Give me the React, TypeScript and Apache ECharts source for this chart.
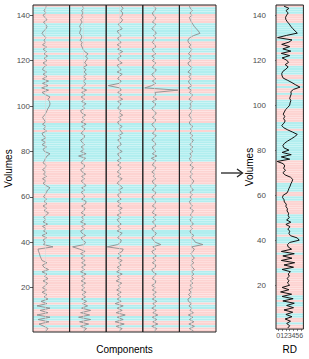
import React, { useEffect, useRef } from "react";
import * as echarts from "echarts";

// volume index (bottom to top)
const volumes: number[] = Array.from({ length: 144 }, (_, i) => i + 1);

// 1 = cyan band, 0 = pink band (per volume, bottom to top)
const censored: number[] = [
  0, 0, 1, 0, 0, 1, 1, 0, 0, 0,
  1, 1, 0, 1, 1, 0, 0, 0, 0, 0,
  0, 0, 0, 0, 0, 1, 1, 0, 0, 0,
  0, 0, 0, 1, 0, 0, 0, 0, 1, 1,
  1, 0, 1, 1, 1, 0, 0, 1, 1, 1,
  1, 0, 0, 0, 0, 0, 0, 1, 1, 0,
  0, 1, 1, 1, 1, 0, 0, 0, 0, 0,
  0, 0, 0, 0, 0, 1, 1, 1, 1, 1,
  1, 1, 1, 1, 1, 1, 1, 1, 0, 1,
  1, 1, 0, 0, 0, 0, 0, 0, 1, 1,
  1, 1, 0, 0, 1, 0, 0, 1, 0, 1,
  1, 0, 0, 1, 1, 1, 1, 0, 0, 0,
  1, 1, 0, 1, 1, 0, 0, 0, 1, 0,
  1, 1, 1, 1, 1, 1, 0, 0, 0, 0,
  1, 1, 1, 0,
];

// component traces (position within each column, bottom to top)
const comp1: number[] = [
  13, 15, 11, 6, 16, 5, 17, 4, 15, 7,
  17, 4, 14, 8, 15, 11, 14, 9, 13.5, 9.5,
  12.5, 14.5, 10, 15, 11.5, 14, 9, 15.5, 11, 9.5,
  14, 9, 8, 7, 6.5, 5.5, 5, 20, 10.5, 12,
  10, 13.5, 9, 14, 10.5, 13, 9.5, 14.5, 10, 13,
  10.5, 13.5, 15.5, 11, 13.5, 10, 14, 11, 13.5, 10.5,
  12, 13.5, 14.5, 17, 13, 10, 13, 9.5, 13.5, 10.5,
  12.5, 9.5, 12.5, 13, 10, 11.5, 12.5, 14, 17, 11.5,
  10, 13.5, 9, 12.5, 8.5, 13, 10, 9, 13.5, 10.5,
  13, 9.5, 12.5, 11, 9.5, 11.5, 13, 14, 15, 16.5,
  17, 16.5, 15, 17, 12.5, 9, 15.5, 8.7, 15, 9.5,
  15.5, 9.5, 14, 10, 13.5, 9.5, 10.5, 13.5, 10, 14,
  11, 14.5, 11, 13.5, 10, 13.5, 9.5, 12.5, 11, 13,
  11, 9, 10.5, 13, 14, 12.5, 10.5, 14, 12, 10,
  13, 11, 12.5, 13,
];
const comp2: number[] = [
  14, 17, 11, 19, 10, 21, 9, 20, 11, 21,
  12, 18, 13, 17, 12, 16, 12.5, 16.5, 12, 15,
  12, 16, 11.5, 15.5, 12, 16.5, 11, 15, 12, 16,
  12, 15.5, 11.5, 15, 11, 15.5, 10, 3, 14.5, 16,
  13, 11.5, 16, 12.5, 11, 15, 12, 16, 11, 14.5,
  12, 15.5, 11.5, 14.5, 15.5, 12, 16, 16.5, 12, 15,
  14, 11.5, 15, 12, 16.5, 14, 11.5, 15, 12, 16,
  12.5, 11, 14.5, 15, 11.5, 13, 16, 9, 16.5, 11,
  14.5, 11.5, 15, 12.5, 11, 14.5, 15, 11.5, 13.5, 15.5,
  12, 16.5, 11.5, 15, 12.5, 16, 12, 11, 15, 13,
  16.5, 12, 15, 11.5, 15.5, 12, 17, 12, 15, 16,
  13.5, 16.5, 14, 17, 14.5, 16.5, 13.5, 17.5, 15, 16.5,
  18, 16, 18.5, 15, 13.5, 12.5, 11.5, 12.5, 10.5, 12,
  12, 10, 10.5, 11.5, 10, 11, 12.5, 11, 13, 12,
  13.5, 12, 14, 13,
];
const comp3: number[] = [
  13, 16, 10, 18, 9, 17, 11, 19, 10, 16,
  11, 17, 9, 15, 11, 14.5, 11, 15, 10.5, 14,
  12, 15.5, 10, 14, 11, 16, 10.5, 14, 11, 15,
  12.5, 16, 11, 15, 12, 16, 17, 1, 11.5, 14.5,
  15, 11.5, 13.5, 16, 11, 14.5, 11.5, 15, 12.5, 11,
  14.5, 11, 15, 12.5, 16, 11.5, 14.5, 11, 15, 12.5,
  11.5, 15, 12.5, 16.5, 14, 11, 13, 16, 11.5, 14.5,
  11, 13.5, 15, 11.5, 14.5, 11, 15, 12.5, 11.5, 16,
  12.5, 11, 15, 14, 11.5, 15, 12.5, 16.5, 14.5, 13,
  16, 12.5, 11.5, 15, 12.5, 16.5, 13, 15, 11.5, 13,
  15, 11.5, 16.5, 12.5, 15.5, 11.5, 15, 13.5, 2, 13,
  15, 11.5, 13, 16, 11, 15, 12.5, 11, 16, 12.5,
  11.5, 15, 12.5, 16.5, 11.5, 14.5, 11, 15, 12.5, 11.5,
  15, 12.5, 11, 16, 14, 12, 15, 16.5, 14, 16,
  16.5, 14.5, 17, 15,
];
const comp4: number[] = [
  12, 14, 9, 15, 10, 14, 9.5, 15, 10, 13.5,
  9, 13, 10, 14, 9.5, 13, 10, 13.5, 9.5, 12.5,
  9, 12.5, 13, 9.5, 11, 13.5, 10, 9, 12.5, 13,
  9.5, 13, 10, 13.5, 10.5, 9, 13, 10, 18, 12.5,
  10.5, 9, 12, 13.5, 10.5, 9, 13, 12, 9.5, 13,
  10.5, 13.5, 9.5, 11, 13, 9.5, 12, 13, 10.5, 9,
  12, 13, 9.5, 11, 13.5, 10.5, 9.5, 13, 10.5, 12,
  9, 12, 13, 9.5, 11, 13, 8.5, 14, 9.5, 13,
  10.5, 9.5, 13, 12, 9, 11, 13.5, 9.5, 12, 13,
  10.5, 9, 12, 13, 9.5, 12, 13.5, 10.5, 9, 12,
  13, 9.5, 14, 10.5, 13, 12, 35, 2, 9, 13,
  9.5, 13, 10.5, 9, 12, 13.5, 9.5, 11, 13, 9.5,
  12, 9, 13, 10.5, 9.5, 13, 12, 9.5, 11, 13,
  10.5, 13.5, 12, 9, 11, 13, 9.5, 12, 13, 10.5,
  9.5, 12, 13, 11,
];
const comp5: number[] = [
  14, 10, 15, 9.5, 14.5, 10, 13.5, 9, 14, 10.5,
  12.5, 9.5, 12, 9, 8.5, 11.5, 9, 12, 9.5, 13,
  10.5, 13.5, 11, 14, 12, 14.5, 12, 15, 13, 11.5,
  14.5, 12, 15, 13, 11.5, 13.5, 15, 12, 23.5, 16,
  14.5, 12, 14.5, 11.5, 10.5, 13, 11, 14, 12, 10.5,
  13, 11, 12.5, 14, 10.5, 13, 11, 10, 12.5, 10.5,
  13, 10.5, 14, 12, 11, 13, 14.5, 12, 10.5, 13,
  11, 12.5, 14, 10.5, 13, 11, 10, 12.5, 10.5, 13.5,
  11, 13.5, 10.5, 12.5, 14, 11, 13.5, 10.5, 12.5, 11,
  13.5, 10.5, 10, 12.5, 11, 9.5, 11.5, 12.5, 10, 12,
  10.5, 13, 9.5, 12, 13, 10, 12, 8.5, 12.5, 10,
  9, 11.5, 9.5, 12, 8.5, 11, 12.5, 9.5, 8.5, 11.5,
  9.5, 12, 9, 11, 12.5, 9.5, 11.5, 9, 8.5, 10,
  14, 20.5, 19, 17, 15, 13.5, 12, 11, 10, 12.5,
  10.5, 13, 11, 10,
];

// RD trace (bottom to top)
const rd: number[] = [
  2.5, 3.0, 2.2, 3.2, 1.8, 3.6, 2.0, 3.8, 1.5, 4.0,
  2.2, 4.2, 1.2, 3.9, 1.0, 3.5, 0.6, 2.8, 1.0, 3.0,
  2.4, 2.8, 2.3, 2.9, 2.6, 3.2, 1.0, 4.0, 1.5, 4.3,
  0.8, 3.6, 1.2, 4.2, 0.8, 3.5, 2.6, 2.4, 3.0, 5.5,
  5.0, 3.2, 2.8, 3.0, 2.5, 3.1, 2.0, 3.3, 2.2, 2.9,
  2.6, 2.7, 2.3, 2.4, 2.0, 2.1, 1.6, 1.5, 1.1, 1.3,
  2.3, 2.6, 2.8, 3.1, 3.3, 3.6, 3.8, 3.2, 1.8, 1.2,
  1.9, 1.4, 1.7, 1.3, -0.3, 3.0, 0.8, 3.4, 1.0, 2.8,
  1.5, 1.2, 1.6, 2.4, 3.4, 4.3, 5.0, 3.8, 2.5, 1.4,
  0.9, 1.5, 1.8, 1.4, 1.7, 1.3, 1.6, 1.9, 2.5, 3.0,
  3.1, 3.3, 3.0, 3.2, 3.4, 3.3, 4.0, 5.7, 4.6, 3.6,
  2.5, 1.3, 1.0, 0.9, 1.2, 2.0, 2.6, 1.8, 2.7, 2.2,
  1.0, 3.0, 0.8, 3.3, 1.2, 3.0, 0.9, 2.8, 3.6, -0.2,
  2.2, 5.0, 4.4, 3.8, 3.3, 2.9, 2.4, 2.0, 1.9, 2.2,
  2.6, 2.0, 2.8, 1.5,
];

const components: number[][] = [comp1, comp2, comp3, comp4, comp5];
const yTicks: number[] = [20, 40, 60, 80, 100, 120, 140];
const rdTicks: number[] = [0, 1, 2, 3, 4, 5, 6];

const PINK = "#FDD3D1";
const CYAN = "#B1EEEF";
const FONT = "Liberation Sans, Arial, Helvetica, sans-serif";

export default function App() {
  const ref = useRef<HTMLDivElement>(null);

  useEffect(() => {
    const chart = echarts.init(ref.current!, null, { renderer: "svg" });

    const colW = 183 / 5;
    const grids: any[] = [];
    const xAxes: any[] = [];
    const yAxes: any[] = [];
    const series: any[] = [];

    const bandData = volumes.map((v, i) => [0, v, censored[i]]);
    const bandSeries = (idx: number) => ({
      type: "custom",
      xAxisIndex: idx,
      yAxisIndex: idx,
      silent: true,
      z: 1,
      encode: { x: 0, y: 1 },
      data: bandData,
      renderItem: (params: any, api: any) => {
        const v = api.value(1);
        const flag = api.value(2);
        const cs = params.coordSys;
        const top = api.coord([0, v + 0.5])[1];
        const bot = api.coord([0, v - 0.5])[1];
        return {
          type: "rect",
          shape: { x: cs.x, y: top, width: cs.width, height: bot - top - 0.2 },
          style: { fill: flag ? CYAN : PINK },
        };
      },
    });

    const yAxisBase = (idx: number, showLabels: boolean, labelMargin: number, name: string, nameGap: number) => ({
      type: "value",
      gridIndex: idx,
      min: 0.5,
      max: 144.5,
      name: name,
      nameLocation: "middle",
      nameGap: nameGap,
      nameMoveOverlap: false,
      nameTextStyle: { fontSize: 10, color: "#000", fontFamily: FONT },
      axisLine: { show: false },
      splitLine: { show: false },
      axisTick: showLabels
        ? { show: true, length: 3, customValues: yTicks, lineStyle: { color: "#333", width: 0.8 } }
        : { show: false },
      axisLabel: showLabels
        ? { show: true, customValues: yTicks, fontSize: 8, color: "#4d4d4d", fontFamily: FONT, margin: labelMargin }
        : { show: false },
    });

    for (let i = 0; i < 5; i++) {
      grids.push({
        left: 33 + i * colW,
        top: 5,
        width: colW,
        height: 327,
        show: true,
        z: 10,
        borderColor: "#222",
        borderWidth: 1,
        backgroundColor: "transparent",
      });
      xAxes.push({
        type: "value",
        gridIndex: i,
        min: 0,
        max: 36.6,
        show: i === 2,
        name: i === 2 ? "Components" : "",
        nameLocation: "middle",
        nameGap: 12,
        nameTextStyle: { fontSize: 10, color: "#000", fontFamily: FONT },
        axisLine: { show: false },
        axisTick: { show: false },
        axisLabel: { show: false },
        splitLine: { show: false },
      });
      yAxes.push(yAxisBase(i, i === 0, 3, i === 0 ? "Volumes" : "", 20));
      series.push(bandSeries(i));
      series.push({
        type: "line",
        xAxisIndex: i,
        yAxisIndex: i,
        data: components[i].map((x, j) => [x, volumes[j]]),
        showSymbol: false,
        symbol: "none",
        z: 3,
        lineStyle: { color: "#8c8c8c", width: 0.9 },
        markLine: {
          silent: true,
          symbol: "none",
          label: { show: false },
          lineStyle: { color: "#d8d8d8", width: 0.6, type: "solid" },
          data: [{ type: "average", valueIndex: 0 }],
        },
      });
    }

    // RD panel
    grids.push({
      left: 276,
      top: 5,
      width: 27.4,
      height: 327,
      show: true,
      z: 10,
      borderColor: "#222",
      borderWidth: 1,
      backgroundColor: "transparent",
    });
    xAxes.push({
      type: "value",
      gridIndex: 5,
      min: -0.6,
      max: 6.6,
      name: "RD",
      nameLocation: "middle",
      nameGap: 12,
      nameTextStyle: { fontSize: 10, color: "#000", fontFamily: FONT },
      axisLine: { show: false },
      axisTick: { show: true, length: 2, customValues: rdTicks, lineStyle: { color: "#333", width: 0.6 } },
      axisLabel: { show: true, customValues: rdTicks, fontSize: 7, color: "#4d4d4d", fontFamily: FONT, margin: 3 },
      splitLine: { show: false },
    });
    yAxes.push(yAxisBase(5, true, 10, "Volumes", 22));
    series.push(bandSeries(5));
    series.push({
      type: "line",
      xAxisIndex: 5,
      yAxisIndex: 5,
      data: rd.map((x, j) => [x, volumes[j]]),
      showSymbol: false,
      symbol: "none",
      z: 3,
      lineStyle: { color: "#111", width: 1 },
    });

    chart.setOption({
      animation: false,
      backgroundColor: "#fff",
      textStyle: { fontFamily: FONT },
      grid: grids,
      xAxis: xAxes,
      yAxis: yAxes,
      series: series,
      graphic: [
        {
          type: "line",
          shape: { x1: 221, y1: 173, x2: 242, y2: 173 },
          style: { stroke: "#222", lineWidth: 1.3 },
          silent: true,
        },
        {
          type: "polyline",
          shape: { points: [[237, 169], [242.5, 173], [237, 177]] },
          style: { stroke: "#222", lineWidth: 1.3, fill: "none" },
          silent: true,
        },
      ],
    });

    return () => chart.dispose();
  }, []);

  return (
    <div
      ref={ref}
      style={{ position: "absolute", left: 0, top: 0, width: 309, height: 359 }}
    />
  );
}
